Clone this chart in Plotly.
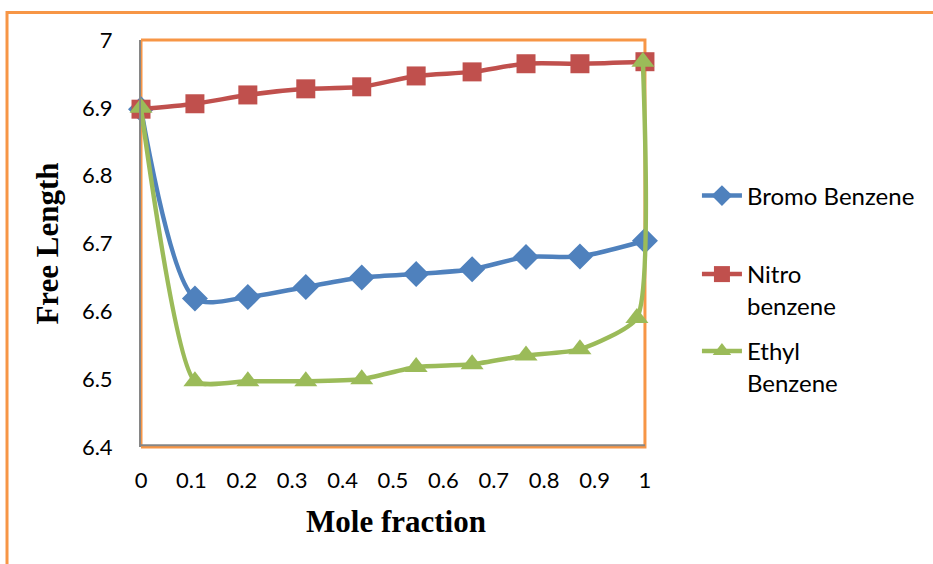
import plotly.graph_objects as go

x_main = [0, 0.107, 0.212, 0.327, 0.438, 0.546, 0.657, 0.764, 0.871, 1.0]
x_ethyl = [0, 0.107, 0.212, 0.327, 0.438, 0.546, 0.657, 0.764, 0.871, 0.984, 0.996]

bromo = [6.898, 6.619, 6.621, 6.636, 6.650, 6.655, 6.662, 6.680, 6.681, 6.704]
nitro = [6.898, 6.906, 6.919, 6.928, 6.931, 6.947, 6.953, 6.965, 6.965, 6.968]
ethyl = [6.900, 6.497, 6.497, 6.497, 6.500, 6.518, 6.522, 6.535, 6.544, 6.590, 6.968]

x_ticks = [0, 0.1, 0.2, 0.3, 0.4, 0.5, 0.6, 0.7, 0.8, 0.9, 1.0]
x_labels = ["0", "0.1", "0.2", "0.3", "0.4", "0.5", "0.6", "0.7", "0.8", "0.9", "1"]
y_ticks = [6.4, 6.5, 6.6, 6.7, 6.8, 6.9, 7.0]
y_labels = ["6.4", "6.5", "6.6", "6.7", "6.8", "6.9", "7"]

BLUE = "#4F81BD"
RED = "#C0504D"
GREEN = "#9BBB59"
ORANGE = "#F79646"
GRAY = "#868686"

fig = go.Figure()
fig.add_trace(go.Scatter(x=x_main, y=bromo, name="Bromo Benzene", mode="lines+markers",
                         line=dict(color=BLUE, width=4.5, shape="spline", smoothing=0.8),
                         marker=dict(symbol="diamond", size=20, color=BLUE),
                         cliponaxis=False, legend="legend"))
fig.add_trace(go.Scatter(x=x_main, y=nitro, name="Nitro<br>benzene", mode="lines+markers",
                         line=dict(color=RED, width=4.5, shape="spline", smoothing=0.8),
                         marker=dict(symbol="square", size=19, color=RED),
                         cliponaxis=False, legend="legend2"))
fig.add_trace(go.Scatter(x=x_ethyl, y=ethyl, name="Ethyl<br>Benzene", mode="lines+markers",
                         line=dict(color=GREEN, width=4.5, shape="spline", smoothing=0.55),
                         marker=dict(symbol="triangle-up", size=20, color=GREEN),
                         cliponaxis=False, legend="legend3"))

W, H = 933, 564
L, T, B = 141, 40, 447
XMAX = 1.012
R = L + 504 * XMAX  # value 1 sits at pixel 645

def px(xp):
    return (xp - L) / (R - L)

def py(yp):
    return (B - yp) / (B - T)

legfont = dict(family="Lato, Liberation Sans, sans-serif", size=24, color="black")
common_leg = dict(font=legfont, bgcolor="rgba(0,0,0,0)", valign="top",
                  xanchor="left", yanchor="middle", itemwidth=40)

fig.update_layout(
    width=W, height=H,
    margin=dict(l=L, r=W - R, t=T, b=H - B),
    paper_bgcolor="white", plot_bgcolor="white",
    showlegend=True,
    legend=dict(x=px(697), y=py(196), **common_leg),
    legend2=dict(x=px(697), y=py(290), **common_leg),
    legend3=dict(x=px(697), y=py(367), **common_leg),
    xaxis=dict(range=[0, XMAX], tickvals=x_ticks, ticktext=x_labels, showgrid=False,
               zeroline=False, showline=False,
               ticks="", ticklabelstandoff=18,
               tickfont=dict(family="Lato, Liberation Sans, sans-serif", size=22, color="black"),
               title=dict(text="<b>Mole fraction</b>", standoff=18,
                          font=dict(family="Liberation Serif, Times New Roman, serif", size=31, color="black"))),
    yaxis=dict(range=[6.4, 7.0], tickvals=y_ticks, ticktext=y_labels, showgrid=False,
               zeroline=False, showline=True, linecolor=GRAY, linewidth=2,
               ticks="", ticklabelstandoff=22,
               tickfont=dict(family="Lato, Liberation Sans, sans-serif", size=22, color="black"),
               title=dict(text="<b>Free Length</b>", standoff=14,
                          font=dict(family="Liberation Serif, Times New Roman, serif", size=31, color="black"))),
)

# plot area border (orange), spanning value 0..1
fig.add_shape(type="rect", xref="x", yref="paper", x0=0, x1=1, y0=0, y1=1,
              line=dict(color=ORANGE, width=3), layer="below")
# gray bottom axis line
fig.add_shape(type="line", xref="x", yref="paper", x0=0, x1=1, y0=0.004, y1=0.004,
              line=dict(color=GRAY, width=2), layer="below")
# outer chart border (top and left)
fig.add_shape(type="line", xref="paper", yref="paper", x0=px(7), x1=px(940), y0=py(12.5), y1=py(12.5),
              line=dict(color=ORANGE, width=3))
fig.add_shape(type="line", xref="paper", yref="paper", x0=px(7), x1=px(7), y0=py(11), y1=py(570),
              line=dict(color=ORANGE, width=3))

fig.write_html("out.html")
